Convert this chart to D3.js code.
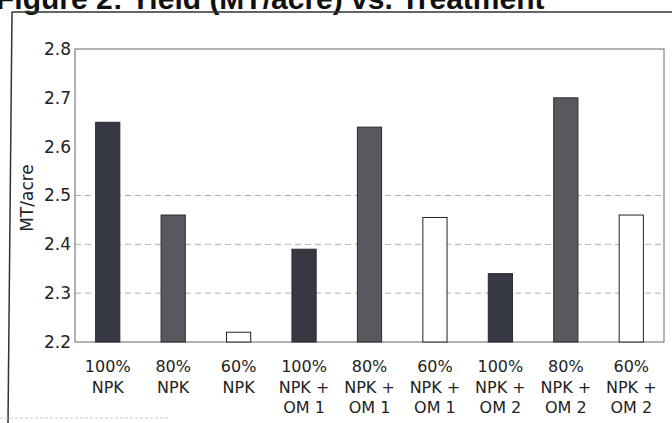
<!DOCTYPE html>
<html>
<head>
<meta charset="utf-8">
<script src="https://cdn.jsdelivr.net/npm/d3@7"></script>
<style>
  body { margin: 0; background: #fff; }
  svg { display: block; font-family: "DejaVu Sans", sans-serif; }
</style>
</head>
<body>
<svg width="672" height="423"></svg>
<script>
// data
const treatments = ['100% NPK', '80% NPK', '60% NPK',
  '100% NPK + OM 1', '80% NPK + OM 1', '60% NPK + OM 1',
  '100% NPK + OM 2', '80% NPK + OM 2', '60% NPK + OM 2'];
const labelLines = [['100%', 'NPK'], ['80%', 'NPK'], ['60%', 'NPK'],
  ['100%', 'NPK +', 'OM 1'], ['80%', 'NPK +', 'OM 1'], ['60%', 'NPK +', 'OM 1'],
  ['100%', 'NPK +', 'OM 2'], ['80%', 'NPK +', 'OM 2'], ['60%', 'NPK +', 'OM 2']];
const npkLevel = ['100', '80', '60', '100', '80', '60', '100', '80', '60'];
const yieldMT = [2.65, 2.46, 2.22, 2.39, 2.64, 2.455, 2.34, 2.70, 2.46];
const yTicks = [2.2, 2.3, 2.4, 2.5, 2.6, 2.7, 2.8];
const gridTicks = [2.3, 2.4, 2.5];

const data = treatments.map((t, i) => ({
  name: t, lines: labelLines[i], level: npkLevel[i], value: yieldMT[i]
}));

const svg = d3.select('svg');
const pLeft = 75, pRight = 664, pTop = 49, pBottom = 342;

const x = d3.scaleBand().domain(treatments).range([pLeft, pRight]).paddingInner(0.63).paddingOuter(0.315);
const y = d3.scaleLinear().domain([2.2, 2.8]).range([pBottom, pTop]);
const fill = d3.scaleOrdinal().domain(['100', '80', '60']).range(['#363844', '#58595f', '#ffffff']);

// title, cut off by the top of the scan
svg.append('text')
  .attr('x', -4).attr('y', 9)
  .attr('font-family', '"Liberation Sans", Arial, sans-serif')
  .attr('font-size', 30).attr('font-weight', 'bold').attr('fill', '#111')
  .text('Figure 2: Yield (MT/acre) vs. Treatment');

// outer box of the figure
svg.append('path')
  .attr('d', 'M12,12 L672,12 M12,12 L8,423')
  .attr('fill', 'none').attr('stroke', '#333').attr('stroke-width', 1.5);
svg.append('line')
  .attr('x1', 0).attr('x2', 170).attr('y1', 418).attr('y2', 418)
  .attr('stroke', '#ccc').attr('stroke-dasharray', '3,2');

// gridlines
svg.append('g').selectAll('line')
  .data(gridTicks)
  .join('line')
  .attr('x1', pLeft).attr('x2', pRight)
  .attr('y1', d => y(d)).attr('y2', d => y(d))
  .attr('stroke', '#b0b0b0').attr('stroke-dasharray', '6,4');

// plot frame
svg.append('rect')
  .attr('x', pLeft).attr('y', pTop)
  .attr('width', pRight - pLeft).attr('height', pBottom - pTop)
  .attr('fill', 'none').attr('stroke', '#666').attr('stroke-width', 1);

// y axis
const gY = svg.append('g')
  .attr('transform', `translate(${pLeft},0)`)
  .call(d3.axisLeft(y).tickValues(yTicks).tickFormat(d3.format('.1f')).tickSize(0).tickPadding(4));
gY.select('.domain').remove();
gY.selectAll('text').attr('font-size', 17).attr('fill', '#222').attr('font-family', '"DejaVu Sans", sans-serif');

svg.append('text')
  .attr('transform', 'translate(33,198) rotate(-90)')
  .attr('text-anchor', 'middle')
  .attr('font-size', 17).attr('fill', '#222')
  .text('MT/acre');

// bars
svg.append('g').selectAll('rect')
  .data(data)
  .join('rect')
  .attr('x', d => x(d.name))
  .attr('width', x.bandwidth())
  .attr('y', d => y(d.value))
  .attr('height', d => y(2.2) - y(d.value))
  .attr('fill', d => fill(d.level))
  .attr('stroke', d => d.level === '60' ? '#222' : '#2a2a30')
  .attr('stroke-width', 1);

// category labels
const gX = svg.append('g');
data.forEach(d => {
  const t = gX.append('text')
    .attr('text-anchor', 'middle')
    .attr('font-size', 16).attr('fill', '#222');
  d.lines.forEach((ln, j) => {
    t.append('tspan')
      .attr('x', x(d.name) + x.bandwidth() / 2)
      .attr('y', 372 + j * 20.5)
      .text(ln);
  });
});
</script>
</body>
</html>
